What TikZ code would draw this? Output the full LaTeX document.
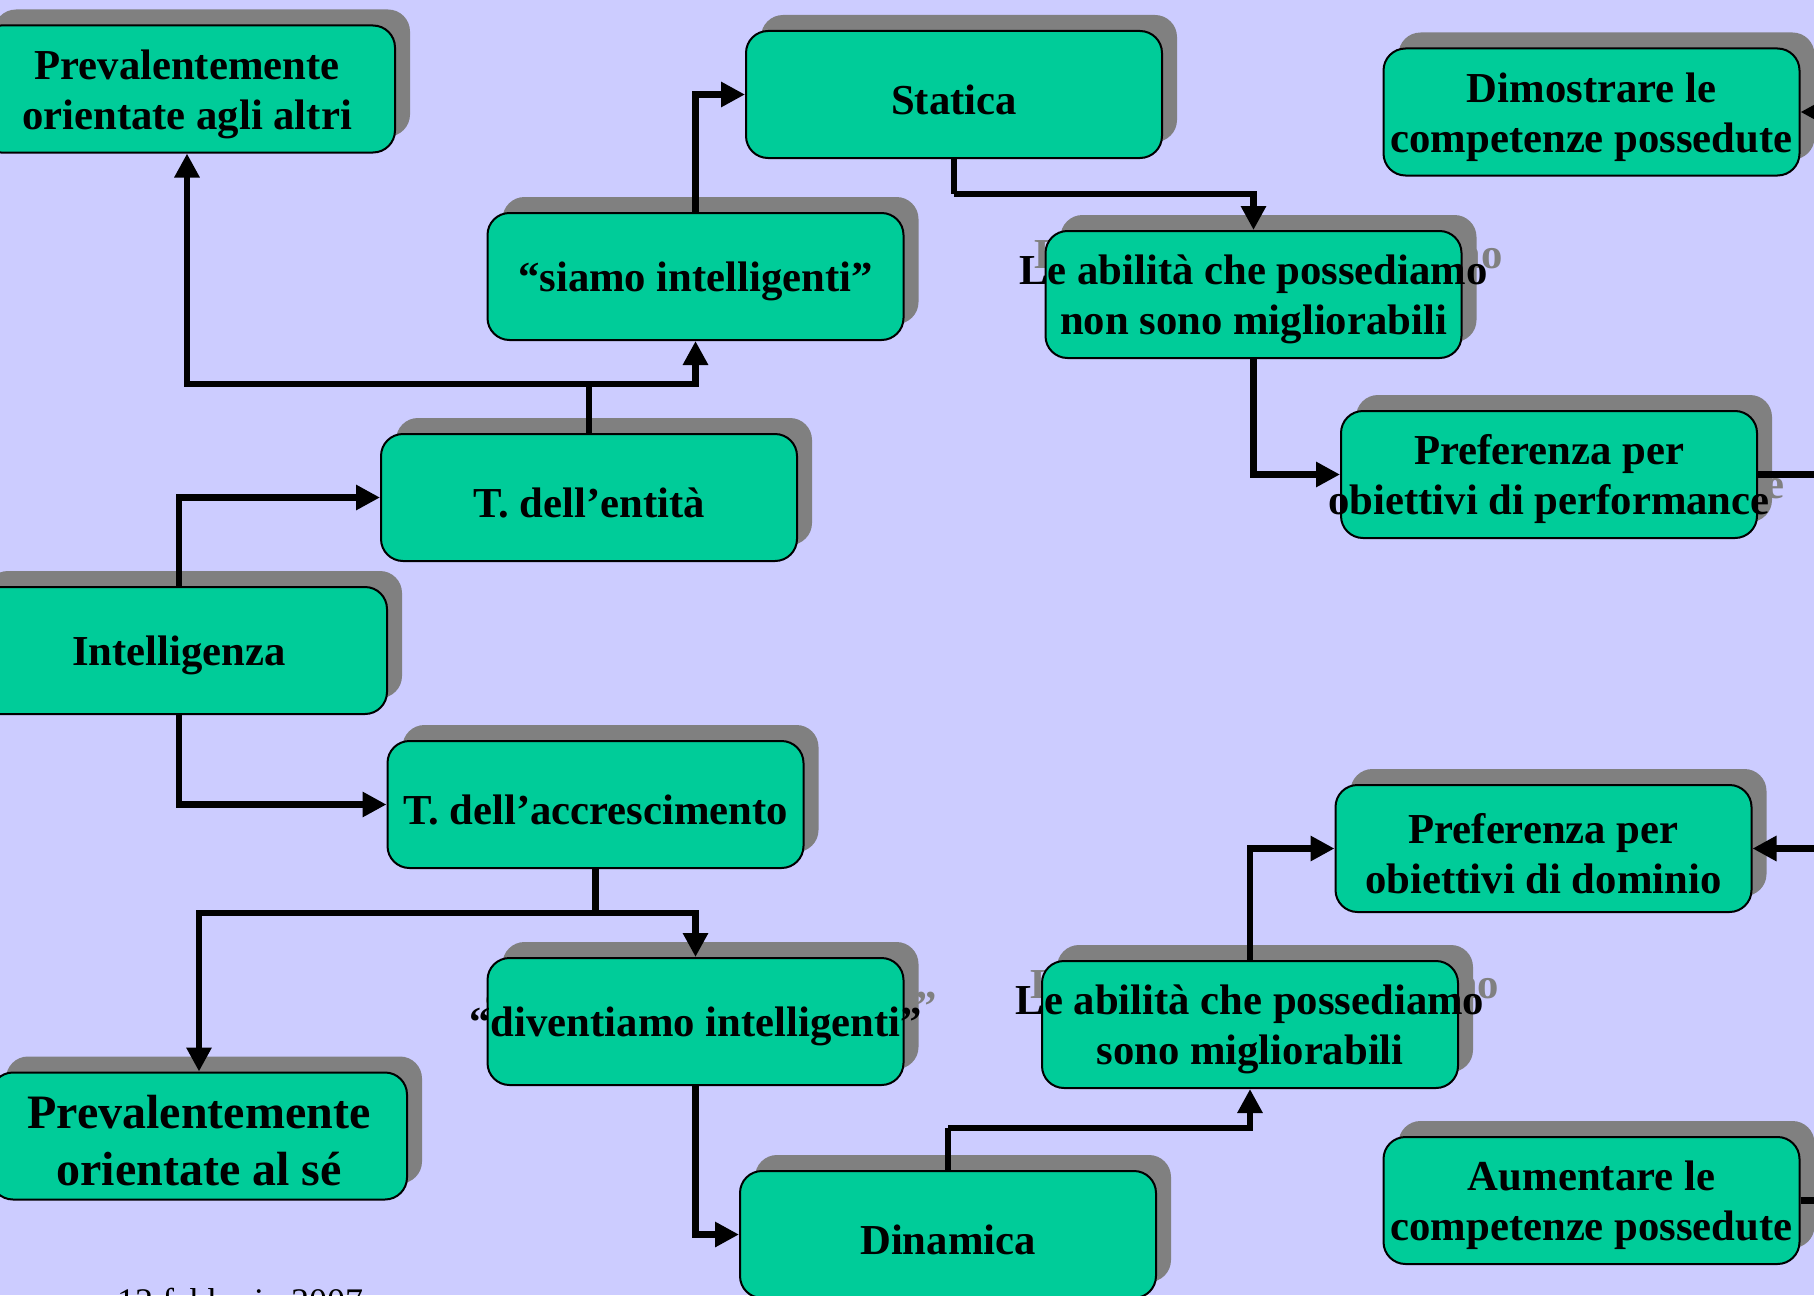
\documentclass[tikz,border=0pt]{standalone}
\usepackage{fontspec}
\setmainfont{Liberation Serif}
\usetikzlibrary{arrows.meta}

\definecolor{bgviolet}{HTML}{CCCCFF}
\definecolor{boxgreen}{HTML}{00CC99}
\definecolor{shadowgray}{HTML}{808080}

\tikzset{
  mainbox/.style={draw=black, line width=2pt, fill=boxgreen, rounded corners=22pt,
    minimum width=416pt, minimum height=127pt, inner sep=0pt},
  shadowbox/.style={fill=shadowgray, rounded corners=22pt,
    minimum width=416pt, minimum height=127pt, inner sep=0pt},
  boxtext/.style={inner sep=0pt, align=center, yshift=-5pt,
    font=\bfseries\fontsize{42.7}{50}\selectfont},
  bigtext/.style={font=\bfseries\fontsize{48}{57}\selectfont},
  ghosttext/.style={boxtext, text=shadowgray},
  link/.style={line width=6.5pt, draw=black},
  arr/.style={link, -{Triangle[length=24pt, width=24pt]}},
}

% box with drop shadow: #1 extra text style, #2 name, #3 centre, #4 text
\newcommand{\shbox}[4][]{%
  \node[shadowbox, xshift=15pt, yshift=16pt] at (#3) {};
  \node[ghosttext, #1, xshift=15pt, yshift=16pt] at (#3) {#4};
  \node[mainbox] (#2) at (#3) {};
  \node[boxtext, #1] at (#2.center) {#4};
}

\begin{document}
\begin{tikzpicture}[x=1pt, y=-1pt]
  \fill[bgviolet] (0,0) rectangle (1814,1295);
  \useasboundingbox (0,0) rectangle (1814,1295);

  % junction points of the connectors
  \coordinate (jA) at (589,384);
  \coordinate (jB) at (954,194);
  \coordinate (jC) at (595.5,913);
  \coordinate (jD) at (948,1128);
  \coordinate (offA) at (1880,474.5);
  \coordinate (offB) at (1880,1200.5);

  \shbox{prevA}{187,89}{Prevalentemente\\orientate agli altri}
  \shbox{statica}{954,94.5}{Statica}
  \shbox{dimo}{1591.5,112}{Dimostrare le\\competenze possedute}
  \shbox{siamo}{695.5,276.5}{“siamo intelligenti”}
  \shbox{abilNon}{1253.5,294.5}{Le abilità che possediamo\\non sono migliorabili}
  \shbox{perf}{1549,474.5}{Preferenza per\\obiettivi di performance}
  \shbox{entita}{589,497.5}{T. dell’entità}
  \shbox{intel}{179,650.5}{Intelligenza}
  \shbox{accr}{595.5,804.5}{T. dell’accrescimento}
  \shbox{dom}{1543.5,848.5}{Preferenza per\\obiettivi di dominio}
  \shbox{diven}{695.5,1021.5}{“diventiamo intelligenti”}
  \shbox{abilSi}{1250,1024.5}{Le abilità che possediamo\\sono migliorabili}
  \shbox[bigtext]{prevS}{199,1136}{Prevalentemente\\orientate al sé}
  \shbox{aum}{1591.5,1200.5}{Aumentare le\\competenze possedute}
  \shbox{dinamica}{948,1234.5}{Dinamica}

  % connectors
  \draw[arr] (intel.north) |- (entita.west);
  \draw[arr] (intel.south) |- (accr.west);
  \draw[link] (entita.north) -- (jA);
  \draw[arr] (jA) -| (prevA.south);
  \draw[arr] (jA) -| (siamo.south);
  \draw[arr] (siamo.north) |- (statica.west);
  \draw[link] (statica.south) -- (jB);
  \draw[arr] (jB) -| (abilNon.north);
  \draw[arr] (abilNon.south) |- (perf.west);
  \draw[arr] (perf.east) -- (offA) |- (dimo.east);
  \draw[link] (accr.south) -- (jC);
  \draw[arr] (jC) -| (prevS.north);
  \draw[arr] (jC) -| (diven.north);
  \draw[arr] (diven.south) |- (dinamica.west);
  \draw[link] (dinamica.north) -- (jD);
  \draw[arr] (jD) -| (abilSi.south);
  \draw[arr] (abilSi.north) |- (dom.west);
  \draw[arr] (aum.east) -- (offB) |- (dom.east);

  % footer date
  \node[anchor=base west, inner sep=0pt, font=\fontsize{36}{40}\selectfont]
    (date) at (117,1313) {12 febbraio 2007};
\end{tikzpicture}
\end{document}
